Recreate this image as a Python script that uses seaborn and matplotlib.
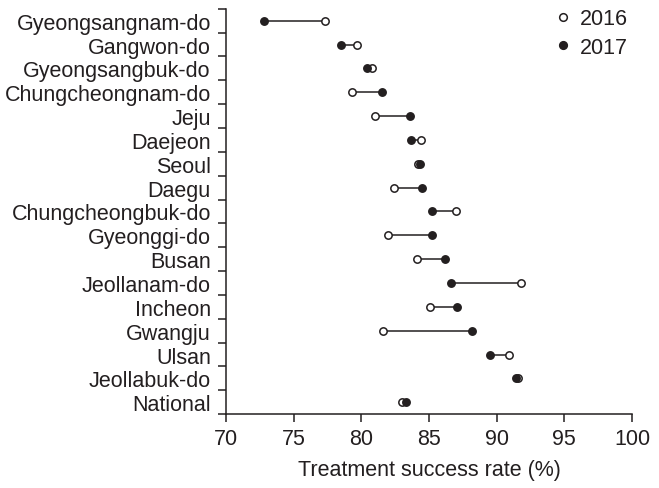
import matplotlib
matplotlib.use("Agg")
import matplotlib.pyplot as plt
import numpy as np
import pandas as pd
import seaborn as sns
from matplotlib.lines import Line2D

regions = [
    "Gyeongsangnam-do", "Gangwon-do", "Gyeongsangbuk-do", "Chungcheongnam-do",
    "Jeju", "Daejeon", "Seoul", "Daegu", "Chungcheongbuk-do", "Gyeonggi-do",
    "Busan", "Jeollanam-do", "Incheon", "Gwangju", "Ulsan", "Jeollabuk-do",
    "National",
]
rate_2016 = [77.3, 79.7, 80.8, 79.3, 81.0, 84.4, 84.2, 82.4, 87.0, 82.0,
             84.1, 91.8, 85.1, 81.6, 90.9, 91.6, 83.0]
rate_2017 = [72.8, 78.5, 80.4, 81.5, 83.6, 83.7, 84.3, 84.5, 85.2, 85.2,
             86.2, 86.6, 87.1, 88.2, 89.5, 91.4, 83.3]

df = pd.DataFrame({"region": regions, "y2016": rate_2016, "y2017": rate_2017})

ink = "#231f20"
fs = 15.5
sns.set_style("ticks")
plt.rcParams["font.family"] = ["Liberation Sans", "DejaVu Sans"]
plt.rcParams["text.color"] = ink
plt.rcParams["xtick.labelcolor"] = ink
plt.rcParams["ytick.labelcolor"] = ink
plt.rcParams["axes.labelcolor"] = ink

fig = plt.figure(figsize=(6.59, 4.89), dpi=100)
ax = fig.add_axes([0.343, 0.151, 0.616, 0.829])

ax.hlines(df["region"], df["y2016"], df["y2017"], color=ink, lw=1.1, zorder=1)
sns.scatterplot(data=df, x="y2016", y="region", ax=ax, color="white",
                edgecolor=ink, linewidth=1.1, s=28, zorder=3)
sns.scatterplot(data=df, x="y2017", y="region", ax=ax, color=ink,
                edgecolor=ink, linewidth=1.1, s=28, zorder=3)

ax.set_xlim(70, 100)
ax.set_xticks(np.arange(70, 101, 5))
ax.set_ylim(len(regions) - 0.5, -0.5)
ax.set_yticks(np.arange(len(regions)))
ax.set_yticklabels(regions)
ax.set_yticks(np.arange(len(regions) + 1) - 0.5, minor=True)
ax.tick_params(axis="y", which="major", length=0, pad=11, labelsize=fs)
ax.tick_params(axis="y", which="minor", length=6, width=1.1, color=ink)
ax.tick_params(axis="x", length=6, width=1.1, color=ink, labelsize=fs, pad=4)
ax.set_xlabel("Treatment success rate (%)", fontsize=fs, labelpad=7)
ax.set_ylabel("")
for side in ["top", "right"]:
    ax.spines[side].set_visible(False)
for side in ["left", "bottom"]:
    ax.spines[side].set_linewidth(1.1)
    ax.spines[side].set_color(ink)

handles = [
    Line2D([], [], marker="o", ls="", mfc="white", mec=ink, ms=5.5, mew=1.1),
    Line2D([], [], marker="o", ls="", mfc=ink, mec=ink, ms=5.5, mew=1.1),
]
ax.legend(handles, ["2016", "2017"], loc="upper right", frameon=False,
          fontsize=fs, handletextpad=0.3, borderaxespad=0.0, handlelength=1.0,
          labelspacing=0.35, bbox_to_anchor=(1.012, 1.022))

fig.savefig("out.png", dpi=100)
